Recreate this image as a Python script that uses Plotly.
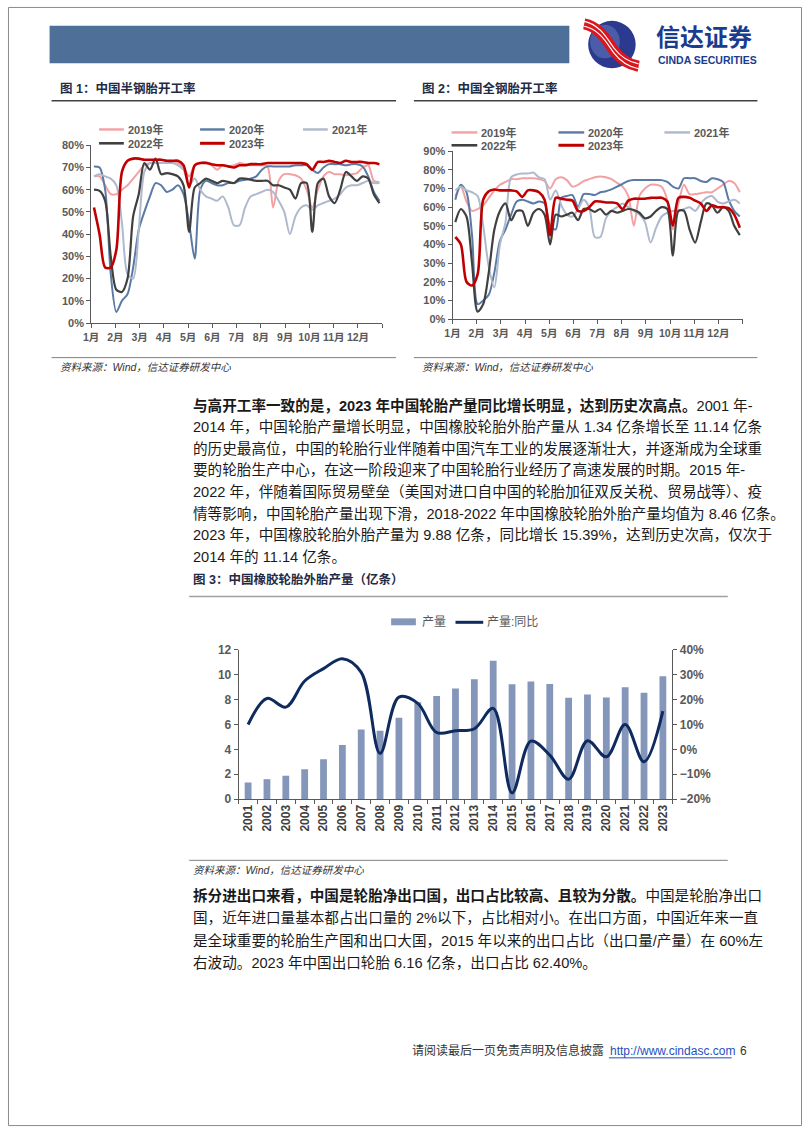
import plotly.graph_objects as go

W, H = 802, 1133
def fx(x): return x / W
def fy(y): return 1 - y / H

# ---------------- data ----------------
weeks = list(range(1, 53))
month_labels = ['1月', '2月', '3月', '4月', '5月', '6月', '7月', '8月', '9月', '10月', '11月', '12月']
series_names = ['2019年', '2020年', '2021年', '2022年', '2023年']

# 图1 中国半钢胎开工率 (%)
semi_2019 = [66,66,62,58,58,60,62,65,68,71, 72,72,72,72,72.5,72,70,66,71,72, 72.5,71,69,71,70.5,71,72,71.5,71,71,
             71,70.5,52,64,67,67,66.5,65,60,52, 60,66,68,67,67,66.5,67,67.5,70,71, 64,63.5]
semi_2020 = [70.5,70,60,22,5,10,13,25,42,50, 57,63,62,59,60,62,58,45,29,60, 64,63,62,62,63,63,64,64.5,65,66,
             69,70.5,70.5,70.5,70.5,70.5,71,71,71,69, 67.5,70,71.5,71.5,71.5,71,71.5,71.5,70.5,66, 59,55]
semi_2021 = [66,67,66,65,62,45,22,20,42,68, 72,72,72,72,72,71,69,62,65,60, 57,56,55,57,52,44,44,52,57,58,
             59,60,59,55,50,40,48,52,53,51, 53,54,55,56,58,61,62,62,63,64, 63,63]
semi_2022 = [60,59.5,55,30,15,14,20,48,58,72, 69,74,67,67.5,67,66,62,41,61,63, 65,64,63,64,63.5,63,65,65,64.5,64,
             64,64,62,62,61,60,56,63,63,41, 63,65,57,54,60,68,66,64,66,65, 58,54]
semi_2023 = [52,40,25,25,33,68,73,74,74,73.5, 73.5,73.5,73.5,73,73,73,71,61,71,72, 72,71.5,71,71,70.5,70,71,71,71.5,71.5,
             71.5,72,72,72,72,72,72,72,71.5,69, 72.5,72.5,73,72.5,72,73,72.5,72.5,72.5,72, 72,71.5]

# 图2 中国全钢胎开工率 (%)
all_2019 = [66,71,63,58,59,61,65,69,72,73.5, 75,75,75.5,75.5,75.5,75,74,70,75,76, 74.5,71,72,74,75,76,76.5,76,75,73,
            71,66,50,66,70,72,72,71,64,48, 62,72,67,67,67.5,68,68,70,72,74, 73,68]
all_2020 = [64,72,68,45,8,10,13,25,42,48, 56,63,64,63,62,63,62,50,48,65, 66,66.5,60,67,67,66.5,68,68.5,69.5,71,
            72.5,74,74.5,74.5,74.5,74.5,74.5,74.5,73.5,71, 70,75.5,75.5,75.5,74,73.5,75.5,75,73.5,64, 58,55]
all_2021 = [69,71,69,68,66,50,28,17,40,52, 76,77.5,78,78,78.5,76,75,64,69,61, 56,55,59,64,60,44,44,54,58,60,
            62,60,58,56,52,41,49,55,57,58, 58,59,60,58,62,65,66,63,62,63, 64,62]
all_2022 = [52,59,55,30,4,8,25,48,58,62, 53,58,58,50,57,59,56,40,56,55, 56,57,53,59,59,57.5,59,56,58,57,
            58,59,58.5,57,54,55,58,60,59,34, 58,58,48,41,52,62,61,57,60,58, 50,45]
all_2023 = [44,40,20,18,24,64,68.5,69.5,69,69, 69,68.5,65.5,69,69,68,64,45,65,64.5, 64,63.5,58,58,60,63,63,62.5,62.5,62,
            59,63.5,64.5,64.5,64.5,65,65,65,63,50, 65,65.5,65,63.5,62,58,61,60,60,59.5, 56,49]

# 图3 中国橡胶轮胎外胎产量（亿条）
years = [str(y) for y in range(2001, 2024)]
output = [1.34,1.60,1.88,2.40,3.20,4.35,5.60,5.50,6.55,7.80,8.30,8.90,9.65,11.14,9.25,9.47,9.26,8.16,8.42,8.18,8.99,8.56,9.88]
output_yoy = [10,20.5,17,27.5,32.5,36.5,31,-1.6,21,18.5,6.8,7.5,8.3,16.5,-17.5,3.3,-2.3,-12,3.5,-3,10,-5,15.39]

# ---------------- styles ----------------
FONT = "Liberation Sans, Noto Sans CJK SC, sans-serif"
colors = ['#F2A2A4', '#5A7AA6', '#AEB9CD', '#404040', '#C00000']
widths = [2, 2, 2, 2.2, 2.6]
AX = '#595959'

fig = go.Figure()
xw = [w - 0.5 for w in weeks]

for name, vals, c, lw in zip(series_names, [semi_2019, semi_2020, semi_2021, semi_2022, semi_2023], colors, widths):
    fig.add_trace(go.Scatter(x=xw, y=vals, mode='lines', name=name, showlegend=False,
                             line=dict(color=c, width=lw, shape='spline', smoothing=0.8),
                             xaxis='x', yaxis='y'))
for name, vals, c, lw in zip(series_names, [all_2019, all_2020, all_2021, all_2022, all_2023], colors, widths):
    fig.add_trace(go.Scatter(x=xw, y=vals, mode='lines', name=name, showlegend=False,
                             line=dict(color=c, width=lw, shape='spline', smoothing=0.8),
                             xaxis='x2', yaxis='y2'))

fig.add_trace(go.Bar(x=years, y=output, name='产量', showlegend=False, width=0.36,
                     marker=dict(color='#8496B9', line=dict(width=0)), xaxis='x3', yaxis='y3'))
fig.add_trace(go.Scatter(x=years, y=output_yoy, mode='lines', name='产量:同比', showlegend=False,
                         line=dict(color='#0E2A5E', width=3, shape='spline', smoothing=1),
                         xaxis='x3', yaxis='y4'))

tickfont = dict(family=FONT, size=11, color=AX, weight='bold')
base = dict(showline=True, linecolor=AX, linewidth=1, ticks='outside', ticklen=4, tickcolor=AX,
            showgrid=False, zeroline=False, tickfont=tickfont, fixedrange=True)

month_ticks = [m * 52 / 12 for m in range(13)]
mfont = dict(family=FONT, size=10.5, color=AX, weight='bold')
fig.update_layout(
    width=W, height=H, margin=dict(l=0, r=0, t=0, b=0),
    paper_bgcolor='white', plot_bgcolor='rgba(0,0,0,0)',
    xaxis=dict(base, domain=[fx(84), fx(378)], range=[0, 52], anchor='y', tickangle=0, tickfont=mfont,
               tickmode='array', tickvals=month_ticks, ticktext=month_labels + ['']),
    yaxis=dict(base, domain=[fy(320), fy(140)], range=[0, 80], dtick=10, ticksuffix='%', anchor='x'),
    xaxis2=dict(base, domain=[fx(449), fx(742)], range=[0, 52], anchor='y2', tickangle=0, tickfont=mfont,
                tickmode='array', tickvals=month_ticks, ticktext=month_labels + ['']),
    yaxis2=dict(base, domain=[fy(316), fy(146)], range=[0, 90], dtick=10, ticksuffix='%', anchor='x2'),
    xaxis3=dict(base, domain=[fx(233), fx(671)], type='category', anchor='y3', tickangle=-90,
                tickson='boundaries', tickfont=dict(family=FONT, size=12, color='#404040', weight='bold')),
    yaxis3=dict(base, domain=[fy(802), fy(651)], range=[0, 12], dtick=2, anchor='x3',
                tickfont=dict(family=FONT, size=12, color=AX, weight='bold')),
    yaxis4=dict(base, overlaying='y3', side='right', anchor='x3', range=[-20, 40], dtick=10, ticksuffix='%',
                tickfont=dict(family=FONT, size=12, color=AX, weight='bold')),
    bargap=0.6,
)

shapes = []
ann = []

def line(x0, y0, x1, y1, color, width):
    shapes.append(dict(type='line', xref='paper', yref='paper', x0=fx(x0), y0=fy(y0), x1=fx(x1), y1=fy(y1),
                       line=dict(color=color, width=width)))

def text(x, y, s, size, color='#222222', xanchor='left', bold=False, italic=False, family=FONT):
    if bold:
        s = '<b>' + s + '</b>'
    if italic:
        s = '<i>' + s + '</i>'
    ann.append(dict(xref='paper', yref='paper', x=fx(x), y=fy(y), text=s, showarrow=False,
                    xanchor=xanchor, yanchor='middle', font=dict(family=family, size=size, color=color)))

# page border
shapes.append(dict(type='rect', xref='paper', yref='paper', x0=0.0006, y0=0.0004, x1=0.9994, y1=0.9996,
                   line=dict(color='#8a8a8a', width=1)))

# header bar
shapes.append(dict(type='rect', xref='paper', yref='paper', x0=fx(42), x1=fx(567), y0=fy(57), y1=fy(19),
                   fillcolor='#4E7098', line=dict(width=0)))

# logo
shapes.append(dict(type='circle', xref='paper', yref='paper', x0=fx(586), x1=fx(634), y0=fy(62), y1=fy(14),
                   fillcolor='#2B3A8F', line=dict(width=0)))
shapes.append(dict(type='circle', xref='paper', yref='paper', x0=fx(588), x1=fx(618), y0=fy(52), y1=fy(18),
                   fillcolor='#7487C8', opacity=0.45, line=dict(width=0)))

def path(pts):
    out = []
    for cmd, ps in pts:
        out.append(cmd + ' ' + ' '.join('%.5f,%.5f' % (fx(a), fy(b)) for a, b in ps))
    return ' '.join(out)

def ribbon_path(off):
    return path([('M', [(582, 17 + off)]), ('C', [(598, 20 + off), (606, 36 + off), (612, 44 + off)]),
                 ('C', [(618, 52 + off), (626, 58 + off), (637, 60 + off)])])

shapes.append(dict(type='path', xref='paper', yref='paper', path=ribbon_path(0), line=dict(color='#D9161E', width=11)))
for off in (-2.5, 2.5):
    shapes.append(dict(type='path', xref='paper', yref='paper', path=ribbon_path(off),
                       line=dict(color='white', width=1.2)))

text(653, 29, '信达证券', 24, color='#1B3C8E', bold=True, family='Noto Sans CJK SC')
text(655, 54, 'CINDA SECURITIES', 10.5, color='#1B3C8E', bold=True)

TITLE_C = '#1F2A44'
text(50, 83, '图 1：中国半钢胎开工率', 12.5, color=TITLE_C, bold=True)
line(44, 95, 392, 95, '#404040', 1.5)
text(416, 83, '图 2：中国全钢胎开工率', 12.5, color=TITLE_C, bold=True)
line(410, 95, 757, 95, '#404040', 1.5)

leg1 = [(92, 124), (194, 124), (298, 124), (92, 138), (194, 138)]
leg2 = [(448, 127), (556, 127), (663, 127), (448, 140), (556, 140)]
for (x0, y0), name, c, lw in zip(leg1, series_names, colors, widths):
    line(x0, y0, x0 + 25, y0, c, lw + 0.4)
    text(x0 + 27, y0, name, 11, color=AX, bold=True)
for (x0, y0), name, c, lw in zip(leg2, series_names, colors, widths):
    line(x0, y0, x0 + 26, y0, c, lw + 0.4)
    text(x0 + 28, y0, name, 11, color=AX, bold=True)

line(44, 355, 392, 355, '#808080', 1)
line(410, 355, 757, 355, '#808080', 1)
text(51, 364, '资料来源：Wind，信达证券研发中心', 10.5, color='#333333', italic=True)
text(416, 364, '资料来源：Wind，信达证券研发中心', 10.5, color='#333333', italic=True)

p1 = [
    '<b>与高开工率一致的是，2023 年中国轮胎产量同比增长明显，达到历史次高点。</b>2001 年-',
    '2014 年，中国轮胎产量增长明显，中国橡胶轮胎外胎产量从 1.34 亿条增长至 11.14 亿条',
    '的历史最高位，中国的轮胎行业伴随着中国汽车工业的发展逐渐壮大，并逐渐成为全球重',
    '要的轮胎生产中心，在这一阶段迎来了中国轮胎行业经历了高速发展的时期。2015 年-',
    '2022 年，伴随着国际贸易壁垒（美国对进口自中国的轮胎加征双反关税、贸易战等）、疫',
    '情等影响，中国轮胎产量出现下滑，2018-2022 年中国橡胶轮胎外胎产量均值为 8.46 亿条。',
    '2023 年，中国橡胶轮胎外胎产量为 9.88 亿条，同比增长 15.39%，达到历史次高，仅次于',
    '2014 年的 11.14 亿条。',
]
for i, s in enumerate(p1):
    text(185, 403 + i * 22.0, s, 14.6, color='#1a1a1a')

text(185, 580, '图 3：中国橡胶轮胎外胎产量（亿条）', 12.5, color=TITLE_C, bold=True)
line(183, 597, 727, 597, '#A0A0A0', 1.5)

shapes.append(dict(type='rect', xref='paper', yref='paper', x0=fx(387), x1=fx(412), y0=fy(626), y1=fy(619),
                   fillcolor='#8496B9', line=dict(width=0)))
text(416, 623, '产量', 12, color=AX)
line(452, 623, 480, 623, '#0E2A5E', 3)
text(482, 623, '产量:同比', 12, color=AX)

line(183, 864, 727, 864, '#808080', 1)
text(185, 874, '资料来源：Wind，信达证券研发中心', 10.5, color='#333333', italic=True)

p2 = [
    '<b>拆分进出口来看，中国是轮胎净出口国，出口占比较高、且较为分散。</b>中国是轮胎净出口',
    '国，近年进口量基本都占出口量的 2%以下，占比相对小。在出口方面，中国近年来一直',
    '是全球重要的轮胎生产国和出口大国，2015 年以来的出口占比（出口量/产量）在 60%左',
    '右波动。2023 年中国出口轮胎 6.16 亿条，出口占比 62.40%。',
]
for i, s in enumerate(p2):
    text(185, 900 + i * 22.6, s, 14.6, color='#1a1a1a')

text(604, 1057, '请阅读最后一页免责声明及信息披露', 12, color='#333333', xanchor='right')
text(606, 1057, 'http://www.cindasc.com', 12, color='#1F4FBF')
line(607, 1064, 731, 1064, '#1F4FBF', 1)
text(737, 1057, '6', 12, color='#333333')

fig.update_layout(shapes=shapes, annotations=ann)
fig.write_html('out.html')
